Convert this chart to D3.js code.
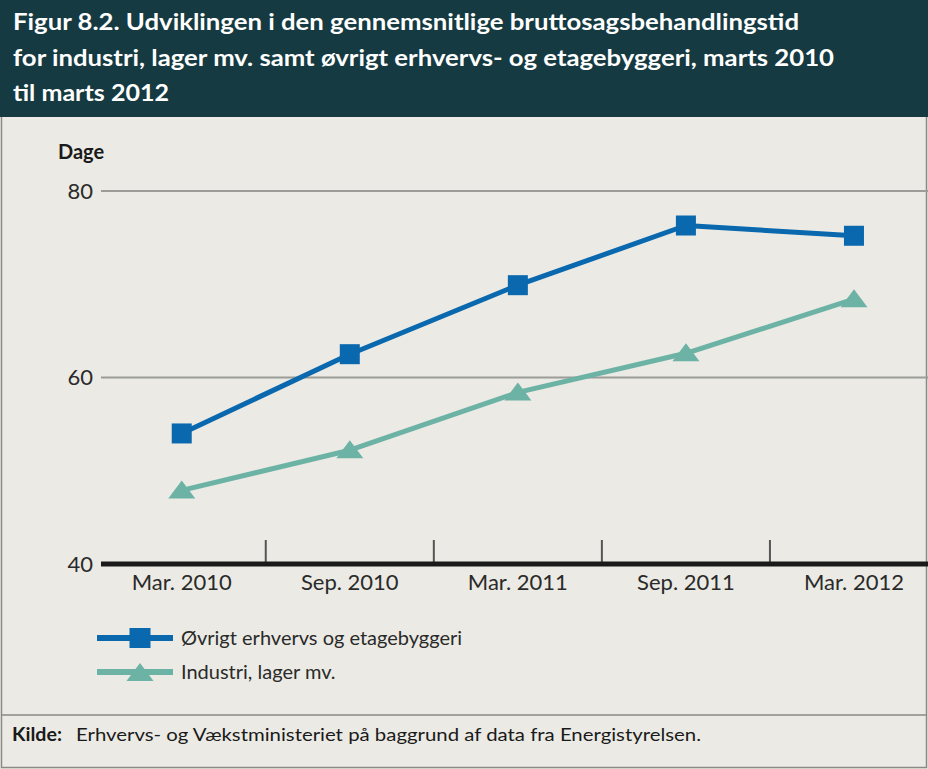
<!DOCTYPE html>
<html>
<head>
<meta charset="utf-8">
<script src="https://cdn.jsdelivr.net/npm/d3@7"></script>
<style>
  html, body { margin: 0; padding: 0; background: #ebeae4; }
  svg { display: block; font-family: Lato, "Open Sans", sans-serif; }
</style>
</head>
<body>
<div id="chart"></div>
<script>
// Periods on the x axis
const periods = ["Mar. 2010", "Sep. 2010", "Mar. 2011", "Sep. 2011", "Mar. 2012"];
// Average gross processing time (days)
const oevrigt = [54.0, 62.5, 69.9, 76.3, 75.2];
const industri = [47.9, 52.2, 58.4, 62.6, 68.4];
const yTicks = [40, 60, 80];
const seriesNames = ["Øvrigt erhvervs og etagebyggeri", "Industri, lager mv."];
const titleLines = [
  "Figur 8.2. Udviklingen i den gennemsnitlige bruttosagsbehandlingstid",
  "for industri, lager mv. samt øvrigt erhvervs- og etagebyggeri, marts 2010",
  "til marts 2012"
];
const titleWidths = [786, 821, 156];
const sourceLabel = "Kilde:";
const sourceText = "Erhvervs- og Vækstministeriet på baggrund af data fra Energistyrelsen.";

const W = 928, H = 769;
const blue = "#0a68ae", teal = "#6cb3a6";

const svg = d3.select("#chart").append("svg")
  .attr("width", W).attr("height", H);

// page background + header band
svg.append("rect").attr("width", W).attr("height", H).attr("fill", "#ebeae4");
svg.append("rect").attr("width", W).attr("height", 117).attr("fill", "#153a41");

svg.append("g").selectAll("text").data(titleLines).join("text")
  .attr("x", 13).attr("y", (d, i) => 30 + i * 35.5)
  .attr("fill", "#ffffff").attr("font-weight", 700).attr("font-size", 23)
  .attr("textLength", (d, i) => titleWidths[i]).attr("lengthAdjust", "spacingAndGlyphs")
  .text(d => d);

// frame around body and footer
svg.append("path")
  .attr("d", `M1.5,117 V767.5 H926.5 V117`)
  .attr("fill", "none").attr("stroke", "#8a8a86").attr("stroke-width", 1.5);
svg.append("line").attr("x1", 1.5).attr("x2", 926.5).attr("y1", 715).attr("y2", 715)
  .attr("stroke", "#8a8a86").attr("stroke-width", 1.5);

// scales
const x = d3.scaleBand().domain(periods).range([97.7, 938]).padding(0);
const y = d3.scaleLinear().domain([40, 80]).range([564, 191]);
const xLeft = 101, xRight = 928;

// gridlines
svg.append("g").selectAll("line").data(yTicks.filter(t => t > 40)).join("line")
  .attr("x1", xLeft).attr("x2", xRight)
  .attr("y1", d => y(d)).attr("y2", d => y(d))
  .attr("stroke", "#9c9c98").attr("stroke-width", 2);

// y tick labels
svg.append("g").selectAll("text").data(yTicks).join("text")
  .attr("x", 93).attr("y", d => y(d)).attr("dy", "0.36em")
  .attr("text-anchor", "end").attr("font-size", 22).attr("fill", "#2a2a2a")
  .text(d => d);

svg.append("text").attr("x", 58).attr("y", 159)
  .attr("font-size", 20).attr("font-weight", 700).attr("fill", "#1a1a1a")
  .text("Dage");

// category separators on the x axis
svg.append("g").selectAll("line").data(periods.slice(1)).join("line")
  .attr("x1", d => x(d)).attr("x2", d => x(d))
  .attr("y1", y(40) - 24).attr("y2", y(40))
  .attr("stroke", "#555").attr("stroke-width", 2);

// baseline
svg.append("line").attr("x1", xLeft).attr("x2", xRight)
  .attr("y1", y(40)).attr("y2", y(40))
  .attr("stroke", "#1a1a1a").attr("stroke-width", 5);

// x labels
svg.append("g").selectAll("text").data(periods).join("text")
  .attr("x", d => x(d) + x.bandwidth() / 2).attr("y", 590)
  .attr("text-anchor", "middle").attr("font-size", 22).attr("fill", "#2a2a2a")
  .text(d => d);

const cx = d => x(d) + x.bandwidth() / 2;
const line = d3.line().x(d => cx(d.p)).y(d => y(d.v));
const toPts = arr => arr.map((v, i) => ({ p: periods[i], v }));

const triPath = (w, h) => `M0,${-h * 0.55}L${w / 2},${h * 0.45}L${-w / 2},${h * 0.45}Z`;

// Industri series
svg.append("path").datum(toPts(industri)).attr("d", line)
  .attr("fill", "none").attr("stroke", teal).attr("stroke-width", 5)
  .attr("stroke-linejoin", "round");
svg.append("g").selectAll("path").data(toPts(industri)).join("path")
  .attr("transform", d => `translate(${cx(d.p)},${y(d.v)})`)
  .attr("d", triPath(27, 18)).attr("fill", teal);

// Øvrigt series
svg.append("path").datum(toPts(oevrigt)).attr("d", line)
  .attr("fill", "none").attr("stroke", blue).attr("stroke-width", 5)
  .attr("stroke-linejoin", "round");
svg.append("g").selectAll("rect").data(toPts(oevrigt)).join("rect")
  .attr("x", d => cx(d.p) - 10).attr("y", d => y(d.v) - 10)
  .attr("width", 20).attr("height", 20).attr("fill", blue);

// legend
const lg = svg.append("g");
const legendRows = [
  { name: seriesNames[0], color: blue, y: 638, marker: "square" },
  { name: seriesNames[1], color: teal, y: 672, marker: "triangle" }
];
legendRows.forEach(r => {
  lg.append("line").attr("x1", 97).attr("x2", 173).attr("y1", r.y).attr("y2", r.y)
    .attr("stroke", r.color).attr("stroke-width", 6);
  if (r.marker === "square") {
    lg.append("rect").attr("x", 129.5).attr("y", r.y - 10).attr("width", 21).attr("height", 20)
      .attr("fill", r.color);
  } else {
    lg.append("path").attr("transform", `translate(140,${r.y + 1})`)
      .attr("d", triPath(27, 18)).attr("fill", r.color);
  }
  lg.append("text").attr("x", 181).attr("y", r.y).attr("dy", "0.36em")
    .attr("font-size", 20).attr("fill", "#2a2a2a").text(r.name);
});

// source note
svg.append("text").attr("x", 12).attr("y", 741)
  .attr("font-size", 18).attr("font-weight", 700).attr("fill", "#1a1a1a")
  .attr("textLength", 50).attr("lengthAdjust", "spacingAndGlyphs")
  .text(sourceLabel);
svg.append("text").attr("x", 76).attr("y", 741)
  .attr("font-size", 18).attr("fill", "#1a1a1a")
  .attr("textLength", 625).attr("lengthAdjust", "spacingAndGlyphs")
  .text(sourceText);
</script>
</body>
</html>
